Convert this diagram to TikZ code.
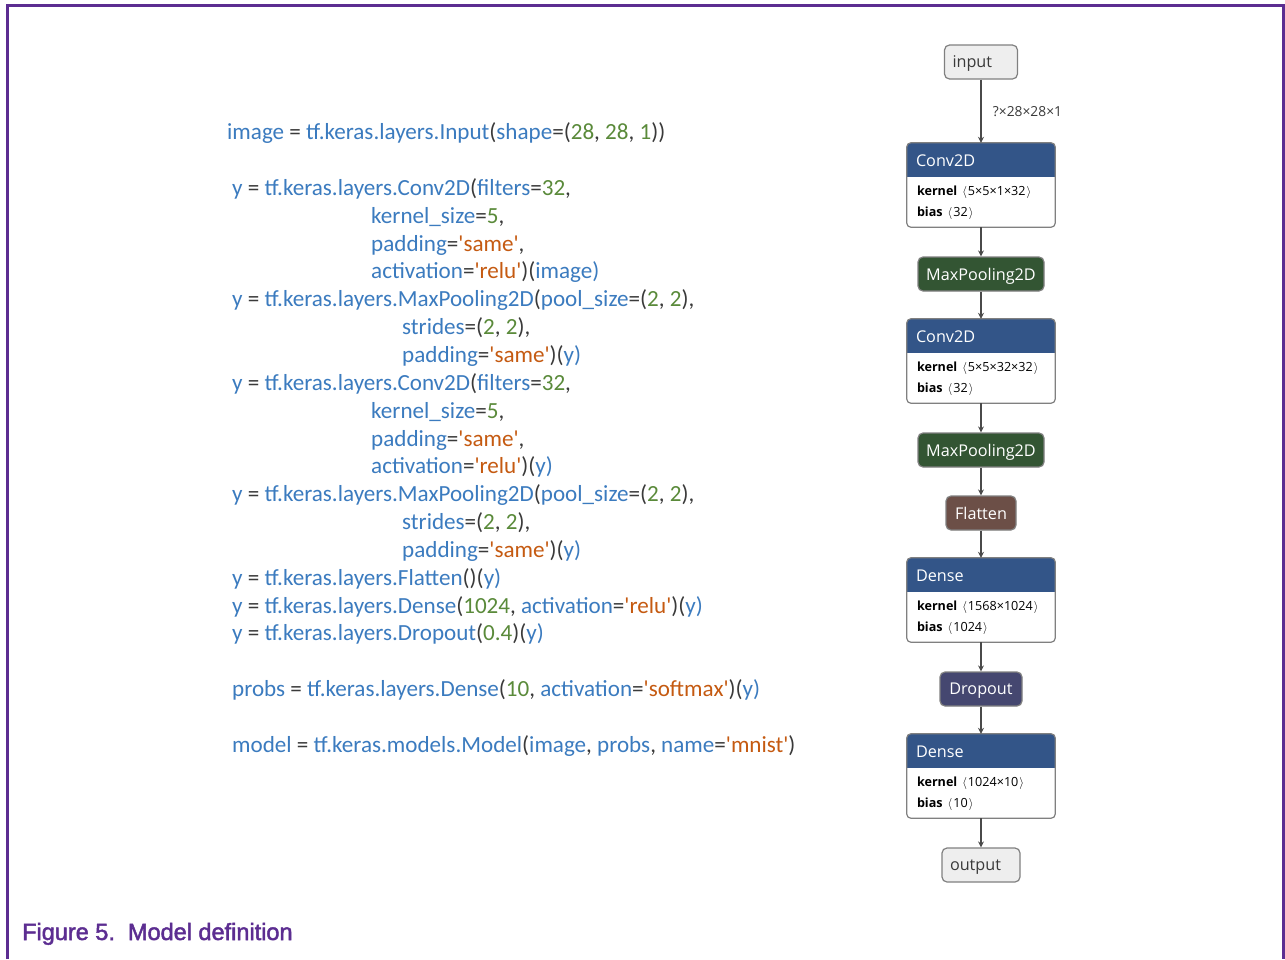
\documentclass[tikz,border=0pt]{standalone}
\usepackage{fontspec}
\usetikzlibrary{arrows.meta}
\newfontfamily\codefont{Carlito}
\newfontfamily\netfont{Open Sans}
\newfontfamily\capfont[FakeBold=2]{Liberation Sans}
\definecolor{frame}{HTML}{5C2D91}
\definecolor{codeblue}{HTML}{3B7BBF}
\definecolor{codegreen}{HTML}{5A8A3A}
\definecolor{codeorange}{HTML}{C55A11}
\definecolor{codedark}{HTML}{3A3A3A}
\definecolor{convc}{HTML}{335588}
\definecolor{poolc}{HTML}{335533}
\definecolor{shapec}{HTML}{6C4F47}
\definecolor{dropc}{HTML}{454770}
\definecolor{iofill}{HTML}{EEEEEE}
\definecolor{nborder}{HTML}{808080}
\definecolor{edgec}{HTML}{4A4A4A}
\newcommand\colB[1]{\textcolor{codeblue}{#1}}
\newcommand\colG[1]{\textcolor{codegreen}{#1}}
\newcommand\colO[1]{\textcolor{codeorange}{#1}}
\newcommand\lbr{\hspace{5pt}\ensuremath{\big\langle}\hspace{1pt}}
\newcommand\rbr{\hspace{1pt}\ensuremath{\big\rangle}}
\newcommand\netlayer[5]{%
  \node[lshape] (#1) at (981,#2) {};
  \fill[convc, rounded corners=4pt] (#1.north west) rectangle ([yshift=-34pt]#1.north east);
  \fill[convc] ([yshift=-17pt]#1.north west) rectangle ([yshift=-34pt]#1.north east);
  \draw[lborder, rounded corners=4pt] (#1.north west) rectangle (#1.south east);
  \node[ltitle] (#1-t) at ([xshift=9pt,yshift=-18pt]#1.north west) {#3};
  \node[lattr] (#1-k) at ([xshift=10pt,yshift=-49pt]#1.north west) {\textbf{kernel}\lbr#4\rbr};
  \node[lattr] (#1-b) at ([xshift=10pt,yshift=-70pt]#1.north west) {\textbf{bias}\lbr#5\rbr};
}
\tikzset{
  code/.style={anchor=base west, inner sep=0pt, text=codedark,
    font=\codefont\fontsize{23.1}{27}\selectfont},
  lshape/.style={minimum width=148pt, minimum height=84pt, inner sep=0pt, fill=white},
  lborder/.style={draw=nborder, line width=1.2pt},
  ltitle/.style={anchor=west, inner sep=0pt, text=white, font=\netfont\fontsize{16.2}{18}\selectfont},
  lattr/.style={anchor=west, inner sep=0pt, text=black, font=\netfont\fontsize{12.6}{14}\selectfont},
  opbox/.style={rounded corners=5pt, draw=nborder, line width=1.2pt, minimum height=34pt,
    inner xsep=8pt, text depth=0pt, text=white, font=\netfont\fontsize{16.2}{18}\selectfont},
  iobox/.style={opbox, fill=iofill, text=codedark},
  edge/.style={draw=edgec, line width=1.3pt, -{Stealth[length=6pt,width=6pt]}},
}
\begin{document}
\begin{tikzpicture}[x=1pt,y=-1pt]
\useasboundingbox (0,0) rectangle (1285,959);
\fill[white] (0,0) rectangle (1285,959);
% frame
\draw[frame, line width=3pt] (7,959) -- (7,5) -- (1283,5) -- (1283,959);
% caption
\node[anchor=base west, inner sep=0pt, text=frame, font=\capfont\fontsize{23.5}{28}\selectfont] (cap) at (22,940) {Figure 5.\ \ Model definition};
% code
\node[code] (l1) at (227,139) {\colB{image} = \colB{tf.keras.layers.Input}(\colB{shape}=(\colG{28}, \colG{28}, \colG{1}))};
\node[code] (l2) at (232,195) {\colB{y} = \colB{tf.keras.layers.Conv2D}(\colB{filters}=\colG{32},};
\node[code] (l3) at (371,223) {\colB{kernel\_size}=\colG{5},};
\node[code] (l4) at (371,251) {\colB{padding}=\colO{'same'},};
\node[code] (l5) at (371,278) {\colB{activation}=\colO{'relu'})(\colB{image)}};
\node[code] (l6) at (232,306) {\colB{y} = \colB{tf.keras.layers.MaxPooling2D}(\colB{pool\_size}=(\colG{2}, \colG{2}),};
\node[code] (l7) at (402,334) {\colB{strides}=(\colG{2}, \colG{2}),};
\node[code] (l8) at (402,362) {\colB{padding}=\colO{'same'})(\colB{y)}};
\node[code] (l9) at (232,390) {\colB{y} = \colB{tf.keras.layers.Conv2D}(\colB{filters}=\colG{32},};
\node[code] (l10) at (371,418) {\colB{kernel\_size}=\colG{5},};
\node[code] (l11) at (371,446) {\colB{padding}=\colO{'same'},};
\node[code] (l12) at (371,473) {\colB{activation}=\colO{'relu'})(\colB{y)}};
\node[code] (l13) at (232,501) {\colB{y} = \colB{tf.keras.layers.MaxPooling2D}(\colB{pool\_size}=(\colG{2}, \colG{2}),};
\node[code] (l14) at (402,529) {\colB{strides}=(\colG{2}, \colG{2}),};
\node[code] (l15) at (402,557) {\colB{padding}=\colO{'same'})(\colB{y)}};
\node[code] (l16) at (232,585) {\colB{y} = \colB{tf.keras.layers.Flatten}()(\colB{y)}};
\node[code] (l17) at (232,613) {\colB{y} = \colB{tf.keras.layers.Dense}(\colG{1024}, \colB{activation}=\colO{'relu'})(\colB{y)}};
\node[code] (l18) at (232,640) {\colB{y} = \colB{tf.keras.layers.Dropout}(\colG{0.4})(\colB{y)}};
\node[code] (l19) at (232,696) {\colB{probs} = \colB{tf.keras.layers.Dense}(\colG{10}, \colB{activation}=\colO{'softmax'})(\colB{y)}};
\node[code] (l20) at (232,752) {\colB{model} = \colB{tf.keras.models.Model}(\colB{image}, \colB{probs}, \colB{name}=\colO{'mnist'})};
% network graph
\node[iobox, inner xsep=0pt, minimum width=73pt] (in) at (981,62) {\makebox[57pt][l]{input}};
\netlayer{conv1}{185}{Conv2D}{5×5×1×32}{32}
\node[opbox, fill=poolc, minimum width=126pt] (pool1) at (981,274) {MaxPooling2D};
\netlayer{conv2}{361}{Conv2D}{5×5×32×32}{32}
\node[opbox, fill=poolc, minimum width=126pt] (pool2) at (981,450) {MaxPooling2D};
\node[opbox, fill=shapec, minimum width=70pt] (flat) at (981,513) {Flatten};
\netlayer{dense1}{600}{Dense}{1568×1024}{1024}
\node[opbox, fill=dropc, minimum width=82pt] (drop) at (981,689) {Dropout};
\netlayer{dense2}{776}{Dense}{1024×10}{10}
\node[iobox, inner xsep=0pt, minimum width=78pt] (out) at (981,865) {\makebox[62pt][l]{output}};
% edges
\draw[edge] (in) -- (conv1) node[midway, anchor=west, xshift=8pt, text=codedark, font=\netfont\fontsize{13.8}{14}\selectfont] (lab) {?×28×28×1};
\draw[edge] (conv1) -- (pool1);
\draw[edge] (pool1) -- (conv2);
\draw[edge] (conv2) -- (pool2);
\draw[edge] (pool2) -- (flat);
\draw[edge] (flat) -- (dense1);
\draw[edge] (dense1) -- (drop);
\draw[edge] (drop) -- (dense2);
\draw[edge] (dense2) -- (out);
\end{tikzpicture}
\end{document}
